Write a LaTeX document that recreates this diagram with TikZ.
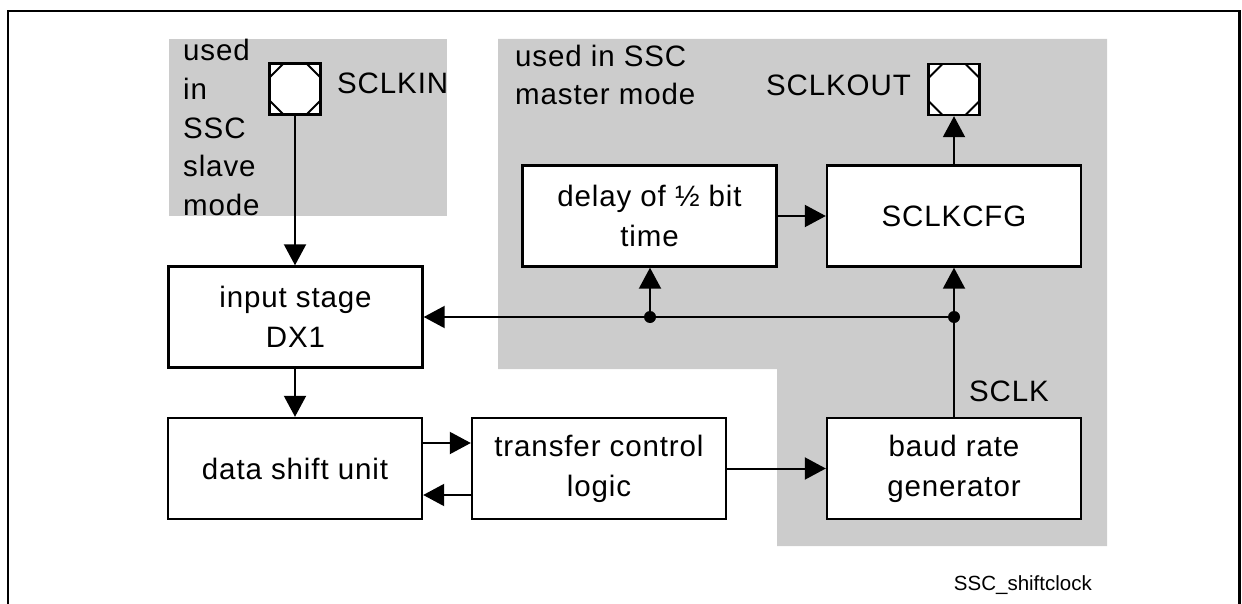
\documentclass[tikz,border=0pt]{standalone}
\usepackage{fontspec}
\setmainfont{Liberation Sans}[LetterSpace=3]
\newfontfamily\capfont{Liberation Sans}
\usetikzlibrary{arrows.meta}
\definecolor{graybg}{RGB}{204,204,204}
\tikzset{
  box/.style={draw, fill=white, line width=2.4pt, minimum width=254pt, minimum height=101pt,
    inner sep=0pt, align=center, font=\fontsize{29.5}{40}\selectfont},
  lbl/.style={inner sep=0pt, align=left, font=\fontsize{29.5}{38.5}\selectfont},
  arr/.style={line width=2pt, -{Triangle[length=21pt,width=22pt]}},
  pin/.style={draw, fill=white, line width=2.4pt, minimum size=51pt, inner sep=0pt,
    path picture={
      \draw[line width=1.8pt]
        ([xshift=14pt]path picture bounding box.north west) -- ([yshift=-14pt]path picture bounding box.north west)
        ([xshift=-14pt]path picture bounding box.north east) -- ([yshift=-14pt]path picture bounding box.north east)
        ([xshift=14pt]path picture bounding box.south west) -- ([yshift=14pt]path picture bounding box.south west)
        ([xshift=-14pt]path picture bounding box.south east) -- ([yshift=14pt]path picture bounding box.south east);
    }},
  dot/.style={circle, fill=black, inner sep=0pt, minimum size=12pt}
}
\begin{document}
\begin{tikzpicture}[x=1pt, y=-1pt]
\useasboundingbox (0,0) rectangle (1242,604);
% frame
\draw[line width=2.5pt] (8,606) -- (8,11) -- (1239.5,11) -- (1239.5,606);
% gray areas
\fill[graybg] (169,39) rectangle (447,216);
\fill[graybg] (498,39) -- (1107,39) -- (1107,546) -- (777,546) -- (777,369) -- (498,369) -- cycle;
% labels (base anchor = last line)
\node[lbl, anchor=base west] (slv) at (183,215) {used\\in\\SSC\\slave\\mode};
\node[lbl, anchor=base west] (mst) at (515,105) {used in SSC\\master mode};
% pins
\node[pin] (pinin) at (295,89) {};
\node[pin] (pinout) at (954,89.5) {};
\node[lbl, anchor=base west] (lin) at (337,94) {SCLKIN};
\node[lbl, anchor=base east] (lout) at (911,96) {SCLKOUT};
% boxes
\node[box] (delay) at (649.5,216) {delay of ½ bit\\time};
\node[box] (cfg) at (954,216) {SCLKCFG};
\node[box] (inp) at (295.5,317) {input stage\\DX1};
\node[box] (dsu) at (295,468.5) {data shift unit};
\node[box] (tcl) at (599,468.5) {transfer control\\logic};
\node[box] (baud) at (954,468.5) {baud rate\\generator};
\node[lbl, anchor=base west] (sclk) at (969,401) {SCLK};
\node[anchor=base east, inner sep=0pt, font=\capfont\fontsize{20.5}{24}\selectfont] (cap) at (1092,590) {SSC\_shiftclock};
% junctions
\coordinate (j1) at (650,317);
\coordinate (j2) at (954,317);
% connectors
\draw[arr] (pinin.south) -- (pinin.south |- inp.north);
\draw[arr] (inp.south -| pinin.south) -- (pinin.south |- dsu.north);
\draw[arr] ([yshift=25.5pt]dsu.east) -- ([yshift=25.5pt]tcl.west);
\draw[arr] ([yshift=-26.5pt]tcl.west) -- ([yshift=-26.5pt]dsu.east);
\draw[arr] (tcl.east) -- (baud.west);
\draw[arr] (baud.north) -- (cfg.south);
\draw[arr] (delay.east) -- (cfg.west);
\draw[arr] (cfg.north) -- (pinout.south);
\draw[arr] (j2) -- (inp.east);
\draw[arr] (j1) -- (j1 |- delay.south);
\node[dot] (d1) at (j1) {};
\node[dot] (d2) at (j2) {};
\end{tikzpicture}
\end{document}
